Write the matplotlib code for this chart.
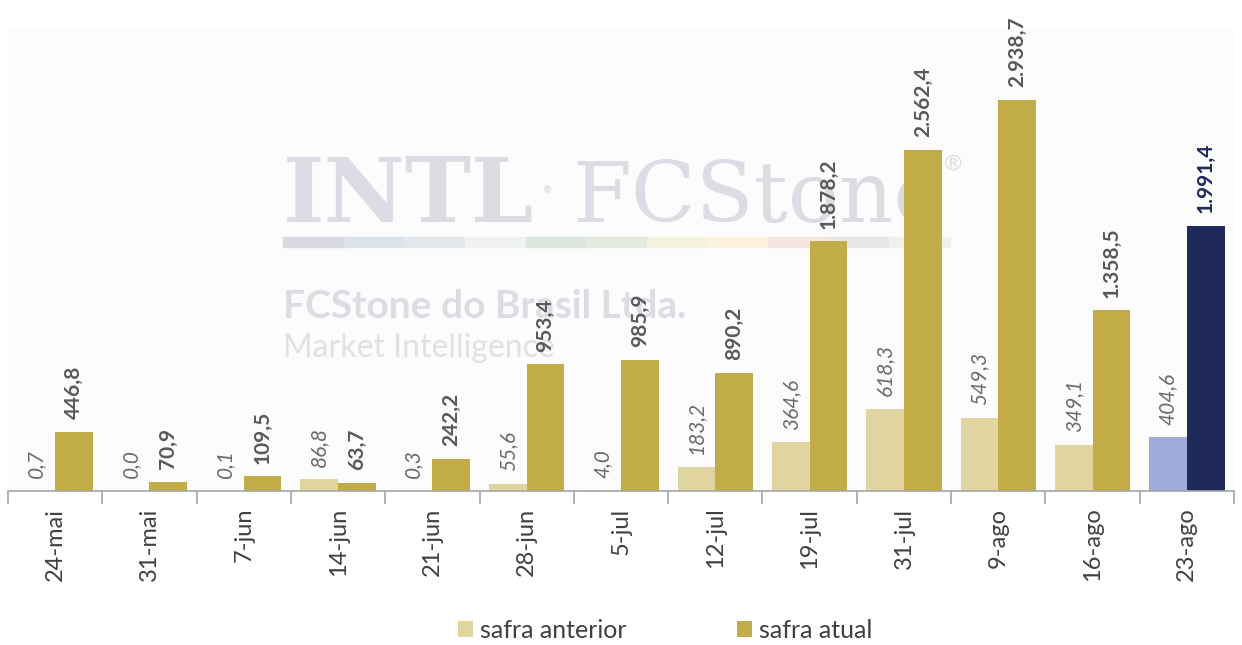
import matplotlib.pyplot as plt
from matplotlib.patches import Rectangle
import numpy as np

plt.rcParams['font.family'] = ['Lato', 'DejaVu Sans']

# data
cats = ['24-mai', '31-mai', '7-jun', '14-jun', '21-jun', '28-jun', '5-jul',
        '12-jul', '19-jul', '31-jul', '9-ago', '16-ago', '23-ago']
anterior = [0.7, 0.0, 0.1, 86.8, 0.3, 55.6, 4.0, 183.2, 364.6, 618.3, 549.3, 349.1, 404.6]
atual = [446.8, 70.9, 109.5, 63.7, 242.2, 953.4, 985.9, 890.2, 1878.2, 2562.4, 2938.7, 1358.5, 1991.4]

c_ant = '#e0d5a1'
c_atu = '#c1ac48'
c_ant_last = '#9ea9dc'
c_atu_last = '#1f2a5a'


def fmt(v):
    s = f"{v:,.1f}"
    return s.replace(',', 'X').replace('.', ',').replace('X', '.')


fig = plt.figure(figsize=(12.42, 6.45), dpi=100)
ax = fig.add_axes([8/1242, 1 - 491/645, 1226/1242, 465/645])
ax.set_facecolor('#fcfcfc')

x = np.arange(len(cats))
w = 0.4
col_ant = [c_ant]*(len(cats)-1) + [c_ant_last]
col_atu = [c_atu]*(len(cats)-1) + [c_atu_last]
b1 = ax.bar(x - w/2, anterior, w, color=col_ant, zorder=2, label='safra anterior')
b2 = ax.bar(x + w/2, atual, w, color=col_atu, zorder=2, label='safra atual')

for i in range(len(cats)):
    ax.annotate(fmt(anterior[i]), (x[i] - w/2, anterior[i]), xytext=(0, 9),
                textcoords='offset points', rotation=90, ha='center', va='bottom',
                fontsize=15, style='italic', color='#6b6b6b', zorder=3)
    lc = c_atu_last if i == len(cats) - 1 else '#595959'
    ax.annotate(fmt(atual[i]), (x[i] + w/2, atual[i]), xytext=(0, 9),
                textcoords='offset points', rotation=90, ha='center', va='bottom',
                fontsize=15, fontweight='bold', color=lc, zorder=3)

ax.set_xlim(-0.5, len(cats) - 0.5)
ax.set_ylim(0, 3494)
ax.set_yticks([])
for s in ['top', 'right', 'left']:
    ax.spines[s].set_visible(False)
ax.spines['bottom'].set_color('#a6a6a6')
ax.spines['bottom'].set_linewidth(1.2)
ax.set_xticks(x)
ax.set_xticklabels(cats, rotation=90, fontsize=17, color='#404040')
ax.tick_params(axis='x', which='major', length=0, pad=12)
ax.set_xticks(np.arange(-0.5, len(cats)), minor=True)
ax.tick_params(axis='x', which='minor', length=9, color='#a6a6a6', width=1.2)

# watermark logo
wm = '#dcdde4'
tr = fig.transFigure
ax.text(283/1242, 1 - 222/645, 'INTL', transform=tr, fontsize=64, fontweight='bold',
        family='DejaVu Serif', color=wm, ha='left', va='baseline', zorder=0.5)
ax.text(540/1242, 1 - 190/645, '·', transform=tr, fontsize=36,
        color='#e6e7ec', ha='left', va='center', zorder=0.5)
ax.text(572/1242, 1 - 222/645, 'FCStone', transform=tr, fontsize=61,
        family='DejaVu Serif', color=wm, ha='left', va='baseline', zorder=0.5)
ax.text(944/1242, 1 - 164/645, '®', transform=tr, fontsize=16,
        color=wm, ha='left', va='center', zorder=0.5)
stripe = ['#d8d9e1', '#dce3ec', '#e3e8ec', '#eff1f2', '#dde6de', '#e4eadd',
          '#f4f1dd', '#fcf2de', '#f7e5df', '#e6e6e6', '#f0f0ec']
sx0, sx1 = 283, 950
sw = (sx1 - sx0) / len(stripe)
for k, c in enumerate(stripe):
    ax.add_artist(Rectangle(((sx0 + k*sw)/1242, 1 - 247/645), sw/1242, 10/645,
                            transform=tr, color=c, zorder=0.5, clip_on=False))
ax.text(283/1242, 1 - 318/645, 'FCStone do Brasil Ltda.', transform=tr, fontsize=28,
        fontweight='bold', color=wm, ha='left', va='baseline', zorder=0.5)
ax.text(283/1242, 1 - 357/645, 'Market Intelligence', transform=tr, fontsize=23,
        color='#e0e1e6', ha='left', va='baseline', zorder=0.5)

fig.legend(handles=[b1[0], b2[0]], labels=['safra anterior', 'safra atual'],
           loc='center', bbox_to_anchor=(665/1242, 1 - 630/645), ncol=2,
           frameon=False, fontsize=18, handlelength=0.6, handleheight=0.6,
           handletextpad=0.3, columnspacing=4.4, labelcolor='#404040')

fig.savefig('out.png', dpi=100, facecolor='white')
